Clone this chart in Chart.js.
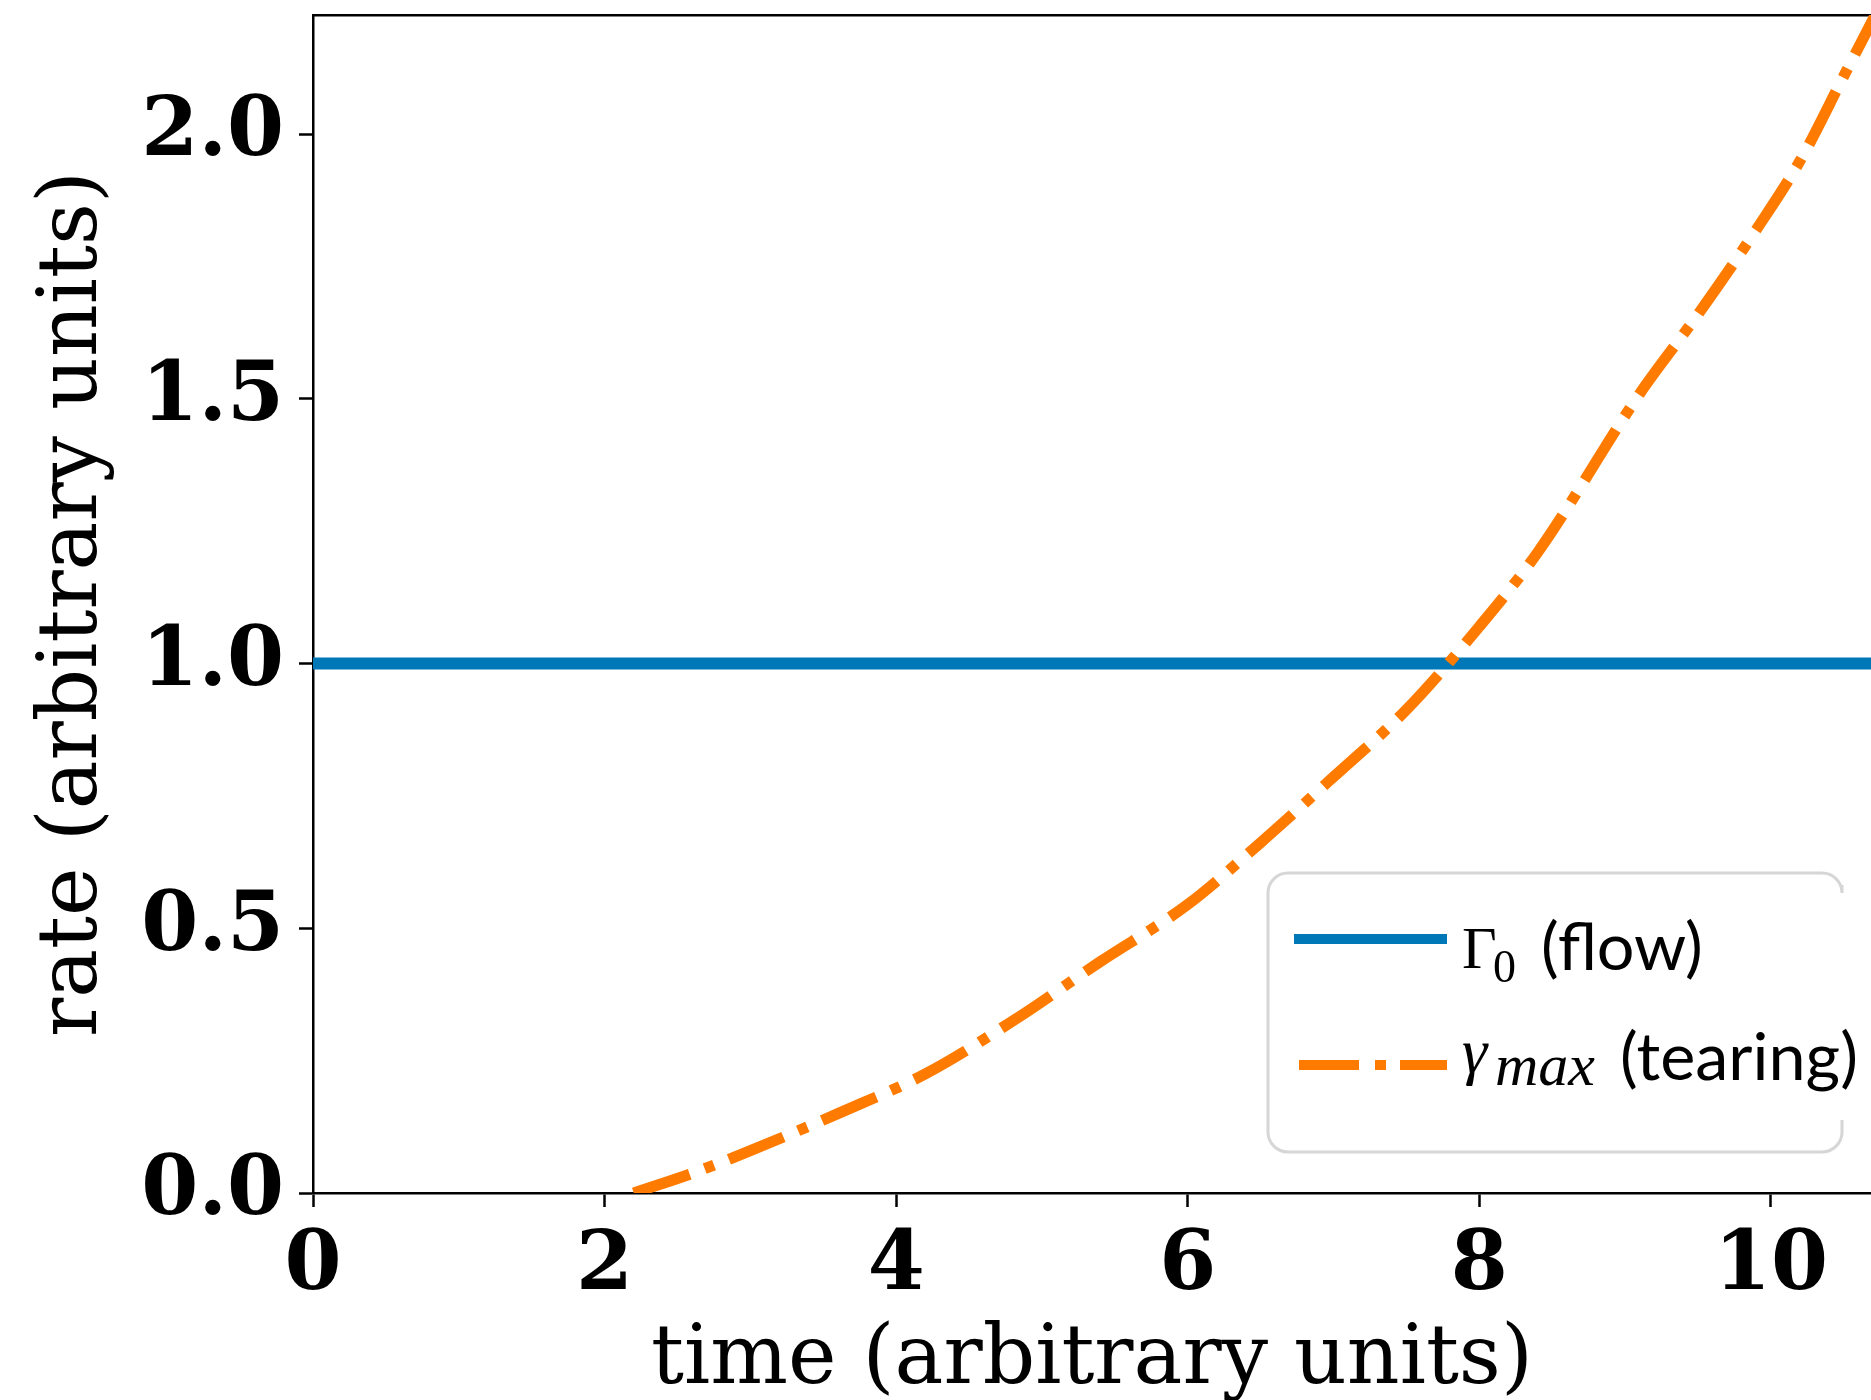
<!DOCTYPE html>
<html>
<head>
<meta charset="utf-8">
<script src="https://cdn.jsdelivr.net/npm/chart.js@4.4.1/dist/chart.umd.min.js"></script>
<style>
  html, body { margin: 0; padding: 0; background: #fff; overflow: hidden; }
  canvas { display: block; }
</style>
</head>
<body>
<canvas id="rates" width="1871" height="1400"></canvas>
<script>
// data
const flowTime = [0, 10.8];
const flowRate = [1, 1];

const tearTime = [2.2, 2.6, 3.0, 3.6, 4.2, 4.8, 5.4, 6.0, 6.5, 7.0, 7.5, 8.0, 8.4, 9.1, 9.5, 9.9, 10.2, 10.5, 10.8];
const tearRate = [0, 0.037, 0.08, 0.15, 0.225, 0.325, 0.437, 0.545, 0.662, 0.786, 0.913, 1.07, 1.21, 1.51, 1.66, 1.82, 1.95, 2.11, 2.27];

const xTicks = [0, 2, 4, 6, 8, 10];
const yTicks = [0, 0.5, 1.0, 1.5, 2.0];

const blue = '#0077b7';
const orange = '#ff7b00';
const tearDash = [59, 16, 10, 16];

const tickFont = { family: "'DejaVu Serif', serif", size: 82, weight: 'bold' };
const titleFont = { family: "'DejaVu Serif', serif", size: 82, weight: 'normal' };

// keep the plot frame where the original has it
function fixSize(prop, val) {
  return s => {
    s[prop] = val;
    s.paddingTop = 0;
    s.paddingBottom = 0;
    s.paddingLeft = 0;
    s.paddingRight = 0;
  };
}

// legend drawn by hand, the original has mixed math/sans text
const legendBox = {
  id: 'legendBox',
  afterDraw(chart) {
    const ctx = chart.ctx;
    const left = 1268, top = 873, right = 1842, bottom = 1152, r = 20;
    ctx.save();
    ctx.fillStyle = 'rgba(255,255,255,0.85)';
    ctx.beginPath();
    ctx.roundRect(left, top, right - left, bottom - top, r);
    ctx.fill();

    // frame, the right side is cut where the text runs over it
    ctx.strokeStyle = '#d6d6d6';
    ctx.lineWidth = 3;
    ctx.beginPath();
    ctx.moveTo(right, top + 12);
    ctx.arcTo(right, top, left, top, r);
    ctx.arcTo(left, top, left, bottom, r);
    ctx.arcTo(left, bottom, right, bottom, r);
    ctx.arcTo(right, bottom, right, top, r);
    ctx.lineTo(right, bottom - 32);
    ctx.stroke();

    // sample lines
    ctx.lineCap = 'butt';
    ctx.lineWidth = 10;
    ctx.strokeStyle = blue;
    ctx.beginPath();
    ctx.moveTo(1294, 939);
    ctx.lineTo(1447, 939);
    ctx.stroke();

    ctx.strokeStyle = orange;
    ctx.setLineDash([60, 16, 11, 14]);
    ctx.beginPath();
    ctx.moveTo(1299, 1065);
    ctx.lineTo(1447, 1065);
    ctx.stroke();
    ctx.setLineDash([]);

    // labels
    ctx.fillStyle = '#000';
    ctx.textAlign = 'left';
    ctx.textBaseline = 'alphabetic';
    ctx.font = "100px Lato, 'Open Sans', sans-serif";
    const sansSize = 100 * 238 / ctx.measureText('(tearing)').width;
    const sans = sansSize.toFixed(1) + "px Lato, 'Open Sans', sans-serif";

    ctx.font = "60px 'Liberation Serif', serif";
    ctx.fillText('Γ', 1462, 968);
    ctx.font = "46px 'Liberation Serif', serif";
    ctx.fillText('0', 1493, 982);
    ctx.font = sans;
    ctx.fillText('(flow)', 1541, 970);

    ctx.font = "italic 64px 'Liberation Serif', serif";
    ctx.fillText('γ', 1462, 1072);
    ctx.font = "italic 60px 'Liberation Serif', serif";
    ctx.fillText('max', 1495, 1085);
    ctx.font = sans;
    ctx.fillText('(tearing)', 1620, 1080);
    ctx.restore();
  }
};

const ctx = document.getElementById('rates');
const chart = new Chart(ctx, {
  type: 'line',
  data: {
    datasets: [
      {
        label: 'Γ0 (flow)',
        data: flowTime.map((t, i) => ({ x: t, y: flowRate[i] })),
        borderColor: blue,
        borderWidth: 12,
        borderCapStyle: 'butt',
        pointRadius: 0,
        order: 1,
        clip: 0
      },
      {
        label: 'γmax (tearing)',
        data: tearTime.map((t, i) => ({ x: t, y: tearRate[i] })),
        borderColor: orange,
        borderWidth: 11,
        borderDash: tearDash,
        borderCapStyle: 'butt',
        cubicInterpolationMode: 'monotone',
        pointRadius: 0,
        order: 0,
        clip: 0
      }
    ]
  },
  options: {
    responsive: false,
    animation: false,
    events: [],
    layout: { padding: 0 },
    plugins: {
      legend: { display: false },
      tooltip: { enabled: false }
    },
    scales: {
      x: {
        type: 'linear',
        position: 'bottom',
        min: 0,
        max: 10.686,
        afterFit: fixSize('height', 207),
        afterBuildTicks: s => { s.ticks = xTicks.map(v => ({ value: v })); },
        ticks: {
          font: tickFont,
          color: '#000',
          padding: 12,
          maxRotation: 0,
          callback: v => String(v)
        },
        grid: {
          drawOnChartArea: false,
          drawTicks: true,
          tickLength: 14,
          tickWidth: 2.5,
          tickColor: '#000'
        },
        border: { display: true, color: '#000', width: 2.5 },
        title: {
          display: true,
          text: 'time (arbitrary units)',
          font: titleFont,
          color: '#000',
          padding: { top: 0, bottom: -11 }
        }
      },
      xTop: {
        type: 'linear',
        position: 'top',
        min: 0,
        max: 10.686,
        afterFit: fixSize('height', 15),
        ticks: { display: false },
        grid: { display: false },
        border: { display: true, color: '#000', width: 2.5 }
      },
      y: {
        type: 'linear',
        position: 'left',
        min: 0,
        max: 2.225,
        afterFit: fixSize('width', 313),
        afterBuildTicks: s => { s.ticks = yTicks.map(v => ({ value: v })); },
        ticks: {
          font: tickFont,
          color: '#000',
          padding: 15,
          callback: v => Number(v).toFixed(1)
        },
        grid: {
          drawOnChartArea: false,
          drawTicks: true,
          tickLength: 14,
          tickWidth: 2.5,
          tickColor: '#000'
        },
        border: { display: true, color: '#000', width: 2.5 },
        title: {
          display: true,
          text: 'rate (arbitrary units)',
          font: titleFont,
          color: '#000',
          padding: { top: 26, bottom: 0 }
        }
      }
    }
  },
  plugins: [legendBox]
});
</script>
</body>
</html>
